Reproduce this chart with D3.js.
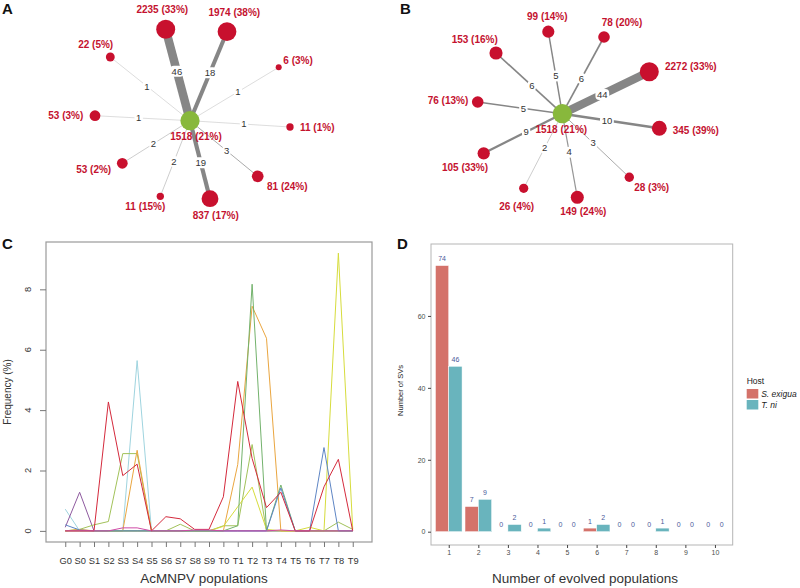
<!DOCTYPE html>
<html><head><meta charset="utf-8">
<script src="https://cdn.jsdelivr.net/npm/d3@7"></script>
<style>body{margin:0;background:#fff} svg{display:block}</style>
</head><body><svg id="chart" width="800" height="588"></svg>
<script>
const FONT = "'Liberation Sans', Arial, Helvetica, sans-serif";

// ---------------- Panel A data ----------------
const hubA = {count: 1518, pct: 21};
const countsA  = [2235, 1974, 22, 6, 53, 11, 53, 11, 837, 81];
const pctsA    = [33, 38, 5, 3, 3, 1, 2, 15, 17, 24];
const weightsA = [46, 18, 1, 1, 1, 1, 2, 2, 19, 3];

// ---------------- Panel B data ----------------
const hubB = {count: 1518, pct: 21};
const countsB  = [99, 78, 153, 2272, 76, 345, 105, 26, 149, 28];
const pctsB    = [14, 20, 16, 33, 13, 39, 33, 4, 24, 3];
const weightsB = [5, 6, 6, 44, 5, 10, 9, 2, 4, 3];

// ---------------- Panel C data ----------------
const populations = ["G0","S0","S1","S2","S3","S4","S5","S6","S7","S8","S9",
                     "T0","T1","T2","T3","T4","T5","T6","T7","T8","T9"];
const freqRed     = [0,0,0,4.27,1.83,2.21,0,0.47,0.4,0.05,0.05,1.13,4.95,2.4,0.77,1.28,0,0,1.46,2.37,0];
const freqCyan    = [0.72,0,0,0,0,5.64,0,0,0,0,0,0,0,0,0,0,0,0,0,0,0];
const freqOlive   = [0,0.05,0.2,0.31,2.56,2.56,0,0,0.22,0,0,0.17,0.17,2.86,0,0,0,0,0,0.29,0.05];
const freqOrange  = [0,0.05,0,0,0,2.67,0,0,0,0,0,0,2.2,7.44,6.38,0,0,0,0,0,0];
const freqYellow  = [0,0,0,0,0,0,0,0,0,0,0,0.15,0.8,1.45,0.05,0,0,0.12,0,9.2,0.05];
const freqGreen   = [0,0,0,0,0,0,0,0,0,0,0,0,0.17,8.17,0,1.52,0,0,0,0,0];
const freqBlue    = [0.2,0.03,0,0,0,0,0,0,0,0,0,0,0,0,0,1.42,0,0,2.76,0,0];
const freqPurple  = [0.12,1.28,0,0,0,0,0,0,0,0,0,0,0,0,0,0,0,0,0,0,0];
const freqMagenta = [0,0,0,0,0.1,0.1,0,0,0,0.03,0.03,0,0,0,0,0.03,0,0,0,0,0];
const freqTicks = [0,2,4,6,8];

// ---------------- Panel D data ----------------
const evolvedCounts = [1,2,3,4,5,6,7,8,9,10];
const svsSExigua = [74, 7, 0, 0, 0, 1, 0, 0, 0, 0];
const svsTNi     = [46, 9, 2, 1, 0, 2, 0, 1, 0, 0];
const svTicks = [0, 20, 40, 60];
const hostNames = ["S. exigua", "T. ni"];

// ---------------- layout (positions in normalised network space) ----------------
const layoutA = [[-0.243,-0.914],[0.37,-0.89],[-0.797,-0.637],[0.887,-0.534],[-0.95,-0.05],
                 [1.0,0.063],[-0.677,0.426],[-0.297,0.756],[0.20,0.78],[0.677,0.556]];
const labelPosA = [["middle",-3.4,-20.3],["middle",7.3,-19.7],["middle",-14.6,-12.7],["start",4.6,-7.3],
                   ["end",-11.7,-0.7],["start",10,0.3],["middle",-28.6,5.7],["middle",-15,10],
                   ["middle",5.7,16.3],["middle",29.6,10.4]];
const layoutB = [[-0.14,-0.82],[0.417,-0.767],[-0.663,-0.607],[0.87,-0.42],[-0.846,-0.117],
                 [0.97,0.146],[-0.786,0.396],[-0.386,0.746],[0.15,0.836],[0.67,0.636]];
const labelPosB = [["middle",-1,-15],["middle",18,-14.3],["middle",-21.3,-13.3],["start",15.7,-5.7],
                   ["end",-9.4,-1.3],["start",13.4,2.4],["middle",-18.7,14.4],["middle",-7,18],
                   ["middle",6,14.4],["middle",22.4,10.4]];

const svg = d3.select("#chart");

// panel letters
[["A",2,14],["B",400,14],["C",2,249],["D",397,249]].forEach(([t,x,y]) =>
  svg.append("text").attr("x",x).attr("y",y).text(t)
    .attr("font-family",FONT).attr("font-weight","bold").attr("font-size",15).attr("fill","#111"));

// ---------------- network drawing ----------------
const rScale = d3.scaleLog().domain([6, 2235]).range([3, 9.5]);
const wScale = d3.scalePow().exponent(0.8).domain([0, 46]).range([0, 8.5]);
const eColor = d3.scaleLinear().domain([1, 5]).range(["#c6c6c6", "#868686"]).clamp(true);

function drawNetwork(cfg) {
  const g = svg.append("g");
  const x = d3.scaleLinear().domain([-1, 1]).range([cfg.cx - 100, cfg.cx + 100]);
  const y = d3.scaleLinear().domain([-1, 1]).range([cfg.cy - 100, cfg.cy + 100]);
  const nodes = cfg.counts.map((c, i) => ({
    count: c, pct: cfg.pcts[i], weight: cfg.weights[i],
    px: x(cfg.layout[i][0]), py: y(cfg.layout[i][1]), lab: cfg.labelPos[i]
  }));
  const hx = x(0), hy = y(0);
  // edges
  g.selectAll("line.edge").data(nodes).join("line")
    .attr("x1", hx).attr("y1", hy).attr("x2", d => d.px).attr("y2", d => d.py)
    .attr("stroke", d => eColor(d.weight))
    .attr("stroke-width", d => Math.max(0.6, wScale(d.weight)));
  // edge labels
  const el = g.selectAll("g.el").data(nodes).join("g")
    .attr("transform", d => `translate(${hx + (d.px - hx) * cfg.t},${hy + (d.py - hy) * cfg.t})`);
  el.append("rect")
    .attr("x", d => -(String(d.weight).length * 2.7 + 1.5)).attr("y", -5.5)
    .attr("width", d => String(d.weight).length * 5.4 + 3).attr("height", 11)
    .attr("rx", 4).attr("fill", "#fff");
  el.append("text").text(d => d.weight)
    .attr("text-anchor", "middle").attr("dy", "0.35em")
    .attr("font-family", FONT).attr("font-size", 9.5).attr("fill", "#333");
  // nodes
  g.selectAll("circle.n").data(nodes).join("circle")
    .attr("cx", d => d.px).attr("cy", d => d.py).attr("r", d => rScale(d.count))
    .attr("fill", "#c8102e");
  g.append("circle").attr("cx", hx).attr("cy", hy).attr("r", 9.6).attr("fill", "#88b83c");
  // node labels
  const lbl = (sel) => sel.attr("font-family", FONT).attr("font-weight", "bold")
    .attr("font-size", 10).attr("fill", "#c4122f").attr("dy", "0.35em");
  g.selectAll("text.nl").data(nodes).join("text")
    .attr("x", d => d.px + d.lab[1]).attr("y", d => d.py + d.lab[2])
    .attr("text-anchor", d => d.lab[0])
    .text(d => `${d.count} (${d.pct}%)`).call(lbl);
  g.append("text").attr("x", hx + cfg.hubLab[0]).attr("y", hy + cfg.hubLab[1])
    .attr("text-anchor", "middle").text(`${cfg.hub.count} (${cfg.hub.pct}%)`).call(lbl);
}

drawNetwork({cx: 190, cy: 120.7, counts: countsA, pcts: pctsA, weights: weightsA,
  layout: layoutA, labelPos: labelPosA, hub: hubA, hubLab: [6, 15.3], t: 0.54});
drawNetwork({cx: 562.3, cy: 113.7, counts: countsB, pcts: pctsB, weights: weightsB,
  layout: layoutB, labelPos: labelPosB, hub: hubB, hubLab: [-1, 15.3], t: 0.46});

// ---------------- Panel C ----------------
(function () {
  const L = 46, R = 372, T = 242, B = 542;
  const g = svg.append("g");
  const x = d3.scalePoint().domain(populations).range([L, R]).padding(1.34);
  const y = d3.scaleLinear().domain([-0.368, 9.568]).range([B, T]);
  const series = [
    [freqCyan, "#9fd4df"], [freqPurple, "#8e5a9f"], [freqOlive, "#a2c25a"],
    [freqOrange, "#eaa640"], [freqYellow, "#d6dc3c"], [freqGreen, "#73b26c"],
    [freqBlue, "#5e85c4"], [freqRed, "#d42a3c"], [freqMagenta, "#cf4aa6"]
  ];
  const line = d3.line().x((d, i) => x(populations[i])).y(d => y(d));
  g.selectAll("path.s").data(series).join("path")
    .attr("d", d => line(d[0])).attr("fill", "none")
    .attr("stroke", d => d[1]).attr("stroke-width", 1);
  g.append("rect").attr("x", L).attr("y", T).attr("width", R - L).attr("height", B - T)
    .attr("fill", "none").attr("stroke", "#9a9a9a").attr("stroke-width", 1.2);
  const ax = g.append("g").attr("transform", `translate(0,${B})`)
    .call(d3.axisBottom(x).tickSize(5).tickPadding(10));
  ax.select(".domain").remove();
  ax.selectAll("line").attr("stroke", "#777");
  ax.selectAll("text").attr("font-family", FONT).attr("font-size", 9.3).attr("fill", "#333");
  const ay = g.append("g").attr("transform", `translate(${L},0)`)
    .call(d3.axisLeft(y).tickValues(freqTicks).tickSize(6).tickFormat(""));
  ay.select(".domain").remove();
  ay.selectAll("line").attr("stroke", "#777");
  g.selectAll("text.yt").data(freqTicks).join("text")
    .attr("transform", d => `translate(${L - 14.7},${y(d)}) rotate(-90)`)
    .attr("text-anchor", "middle").text(d => d)
    .attr("font-family", FONT).attr("font-size", 9.3).attr("fill", "#333");
  g.append("text").attr("transform", `translate(11,${(T + B) / 2}) rotate(-90)`)
    .attr("text-anchor", "middle").text("Frequency (%)")
    .attr("font-family", FONT).attr("font-size", 10).attr("fill", "#333");
  g.append("text").attr("x", 204).attr("y", 583).attr("text-anchor", "middle")
    .text("AcMNPV populations").attr("font-family", FONT).attr("font-size", 13.5).attr("fill", "#333");
})();

// ---------------- Panel D ----------------
(function () {
  const L = 431, R = 732.7, T = 244, B = 545;
  const g = svg.append("g");
  const x = d3.scaleLinear().domain([0.4, 10.6]).range([L, R]);
  const y = d3.scaleLinear().domain([-3.7, 80]).range([B, T]);
  const colors = ["#d4726a", "#69b4bd"];
  const bw = 0.45;
  const bars = [];
  evolvedCounts.forEach((c, i) => {
    bars.push({c, v: svsSExigua[i], s: 0});
    bars.push({c, v: svsTNi[i], s: 1});
  });
  g.append("rect").attr("x", L).attr("y", T).attr("width", R - L).attr("height", B - T)
    .attr("fill", "#fff").attr("stroke", "#b5b5b5").attr("stroke-width", 1);
  g.selectAll("rect.bar").data(bars.filter(d => d.v > 0)).join("rect")
    .attr("x", d => x(d.c - bw + d.s * bw)).attr("width", x(bw) - x(0))
    .attr("y", d => y(d.v)).attr("height", d => y(0) - y(d.v))
    .attr("fill", d => colors[d.s]).attr("stroke", "#fff").attr("stroke-width", 0.5);
  g.selectAll("text.vl").data(bars).join("text")
    .attr("x", d => x(d.c - bw / 2 + d.s * bw)).attr("y", d => y(d.v) - 4.5)
    .attr("text-anchor", "middle").text(d => d.v)
    .attr("font-family", FONT).attr("font-size", 7).attr("fill", "#4b5a9a");
  const ax = g.append("g").attr("transform", `translate(0,${B})`)
    .call(d3.axisBottom(x).tickValues(evolvedCounts).tickFormat(d3.format("d")).tickSize(3).tickPadding(2.5));
  ax.select(".domain").remove();
  ax.selectAll("line").attr("stroke", "#444");
  ax.selectAll("text").attr("font-family", FONT).attr("font-size", 7).attr("fill", "#4d4d4d");
  const ay = g.append("g").attr("transform", `translate(${L},0)`)
    .call(d3.axisLeft(y).tickValues(svTicks).tickSize(3).tickPadding(2.5));
  ay.select(".domain").remove();
  ay.selectAll("line").attr("stroke", "#444");
  ay.selectAll("text").attr("font-family", FONT).attr("font-size", 7).attr("fill", "#4d4d4d");
  g.append("text").attr("transform", `translate(402.5,${(T + B) / 2 - 4}) rotate(-90)`)
    .attr("text-anchor", "middle").text("Number of SVs")
    .attr("font-family", FONT).attr("font-size", 7.5).attr("fill", "#222");
  g.append("text").attr("x", 585).attr("y", 583).attr("text-anchor", "middle")
    .text("Number of evolved populations").attr("font-family", FONT).attr("font-size", 13.5).attr("fill", "#333");
  // legend
  const lg = g.append("g").attr("transform", "translate(746.7,381)");
  lg.append("text").attr("x", 0).attr("y", 0).attr("dy", "0.35em").text("Host")
    .attr("font-family", FONT).attr("font-size", 8.5).attr("fill", "#222");
  hostNames.forEach((h, i) => {
    lg.append("rect").attr("x", 0).attr("y", 8 + i * 11).attr("width", 11.6).attr("height", 9.5)
      .attr("fill", colors[i]);
    lg.append("text").attr("x", 14.5).attr("y", 12.8 + i * 11).attr("dy", "0.35em").text(h)
      .attr("font-family", FONT).attr("font-style", "italic").attr("font-size", 8.5).attr("fill", "#222");
  });
})();
</script></body></html>
